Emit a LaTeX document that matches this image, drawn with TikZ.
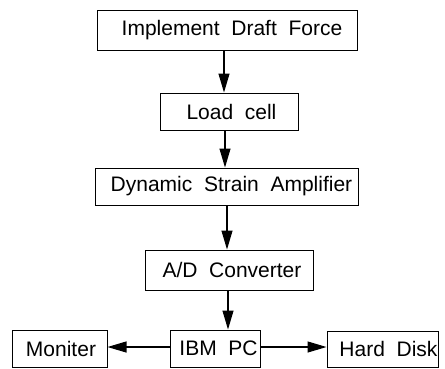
\documentclass[tikz,border=0pt]{standalone}
\usepackage{fontspec}
\setmainfont{Liberation Sans}[WordSpace=2.0]
\usetikzlibrary{arrows.meta}
\begin{document}
\begin{tikzpicture}[x=1pt,y=-1pt,
  box/.style={draw=black,line width=1pt,inner sep=0pt,
    font=\fontsize{21}{24}\selectfont},
  conn/.style={line width=1.1pt,-{Triangle[length=19pt,width=11pt]}}]
\useasboundingbox (0,0) rectangle (445,368);
\node[box,minimum width=260pt,minimum height=40pt] (idf) at (227,30) {\hspace*{10pt}Implement Draft Force};
\node[box,minimum width=138pt,minimum height=37pt] (lc) at (229,111.5) {\hspace*{5pt}Load cell};
\node[box,minimum width=263pt,minimum height=37pt] (dsa) at (226.5,186.5) {\hspace*{10pt}Dynamic Strain Amplifier};
\node[box,minimum width=168pt,minimum height=40pt] (ad) at (229,270) {\hspace*{6pt}A/D Converter};
\node[box,minimum width=95pt,minimum height=37pt] (mon) at (59.5,348.5) {\hspace*{3pt}Moniter};
\node[box,minimum width=90pt,minimum height=37pt] (pc) at (215,348.5) {\hspace*{7pt}IBM PC};
\node[box,minimum width=111pt,minimum height=36pt] (hd) at (382.5,349) {\hspace*{12pt}Hard Disk};
\draw[conn] ([xshift=-3pt]idf.south) -- ([xshift=-3pt]idf.south |- lc.north);
\draw[conn] ([xshift=-4pt]lc.south) -- ([xshift=-4pt]lc.south |- dsa.north);
\draw[conn] ([xshift=0.5pt]dsa.south) -- ([xshift=0.5pt]dsa.south |- ad.north);
\draw[conn] ([xshift=-1pt]ad.south) -- ([xshift=-1pt]ad.south |- pc.north);
\draw[conn] ([yshift=1.5pt]pc.west) -- ([yshift=1.5pt]pc.west -| mon.east);
\draw[conn] ([yshift=1.5pt]pc.east) -- ([yshift=1.5pt]pc.east -| hd.west);
\end{tikzpicture}
\end{document}
